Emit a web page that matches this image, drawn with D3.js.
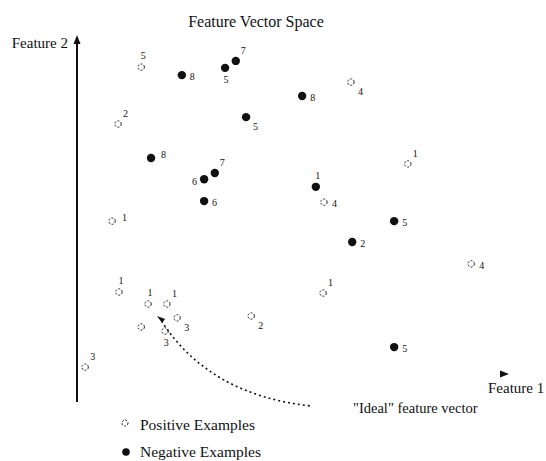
<!DOCTYPE html>
<html><head><meta charset="utf-8">
<script src="https://cdn.jsdelivr.net/npm/d3@7"></script>
<style>body{margin:0;background:#fff}svg{display:block}text{font-family:"Liberation Serif","DejaVu Serif",serif;fill:#111}</style>
</head><body>
<script>
// ---- data (feature-space coordinates) ----
const negX = [2.45, 3.46, 3.71, 5.26, 3.95, 1.73, 3.22, 2.97, 2.97, 5.58, 7.41, 6.43, 7.41];
const negY = [8.90, 9.10, 9.29, 8.33, 7.75, 6.63, 6.22, 6.05, 5.45, 5.84, 4.90, 4.33, 1.45];
const negLabels = ["8","5","7","8","5","8","7","6","6","1","5","2","5"];
const negLabelSide = ["r","b","tr","r","br","rt","tr","l","r","t","r","r","r"];

const posX = [1.50, 0.96, 6.40, 7.73, 5.77, 0.82, 0.98, 1.66, 2.10, 2.34, 1.50, 2.06, 4.07, 5.75, 9.21, 0.19];
const posY = [9.12, 7.56, 8.71, 6.47, 5.42, 4.90, 2.96, 2.63, 2.63, 2.25, 2.00, 1.89, 2.30, 2.93, 3.73, 0.90];
const posLabels = ["5","2","4","1","4","1","1","1","1","3","","3","2","1","4","3"];
const posLabelSide = ["t","tr","br","tr","r","rt","t","t","tr","br","r","b","br","tr","r","tr"];

const idealPoint = [1.87, 2.30];
const idealCurve = [[5.44, -0.16], [3.11, 0.14]]; // start, control
const texts = {
  title: "Feature Vector Space",
  xLabel: "Feature 1",
  yLabel: "Feature 2",
  ideal: "\"Ideal\" feature vector",
  pos: "Positive Examples",
  neg: "Negative Examples"
};

// ---- drawing ----
const W = 546, H = 461;
const svg = d3.select("body").append("svg").attr("width", W).attr("height", H);
const x = d3.scaleLinear().domain([0, 10]).range([77, 505]);
const y = d3.scaleLinear().domain([0, 10]).range([400, 35]);

const off = {
  r:  {dx: 8,  dy: 5,  a: "start"},
  rt: {dx: 10, dy: 0,  a: "start"},
  tr: {dx: 5,  dy: -7, a: "start"},
  br: {dx: 7,  dy: 13, a: "start"},
  b:  {dx: 1,  dy: 15, a: "middle"},
  t:  {dx: 2,  dy: -8, a: "middle"},
  l:  {dx: -7, dy: 6,  a: "end"}
};

// title
svg.append("text").attr("x", 256).attr("y", 27).attr("text-anchor", "middle")
  .attr("font-size", 16).text(texts.title);

// y axis (vertical line with arrowhead)
svg.append("line").attr("x1", x(0)).attr("x2", x(0)).attr("y1", y(10) + 4).attr("y2", 402)
  .attr("stroke", "#111").attr("stroke-width", 2);
svg.append("path").attr("d", `M${x(0)},${y(10)} l-3.5,9 l7,0 z`).attr("fill", "#111");
svg.append("text").attr("x", 68).attr("y", 48).attr("text-anchor", "end")
  .attr("font-size", 15).text(texts.yLabel);

// x axis arrowhead (line lost in the original)
svg.append("path").attr("d", `M${x(10) + 4},${y(0) - 26} l-9,-3.5 l0,7 z`).attr("fill", "#111");
svg.append("text").attr("x", 488).attr("y", 393).attr("font-size", 15).text(texts.xLabel);

// ideal vector dotted curve
const c0 = idealCurve[0], c1 = idealCurve[1];
const p = d3.path();
p.moveTo(x(c0[0]), y(c0[1]));
p.quadraticCurveTo(x(c1[0]), y(c1[1]), x(idealPoint[0]) + 5, y(idealPoint[1]) + 6);
svg.append("path").attr("d", p.toString()).attr("fill", "none").attr("stroke", "#111")
  .attr("stroke-width", 1.6).attr("stroke-dasharray", "2,3");
svg.append("path")
  .attr("d", `M${x(idealPoint[0])},${y(idealPoint[1])} l8,3 l-3,4 z`)
  .attr("fill", "#111");
svg.append("text").attr("x", 353).attr("y", 413).attr("font-size", 14.5).text(texts.ideal);

// negative examples
const neg = negX.map((v, i) => ({x: v, y: negY[i], l: negLabels[i], s: negLabelSide[i]}));
svg.append("g").selectAll("circle").data(neg).join("circle")
  .attr("cx", d => x(d.x)).attr("cy", d => y(d.y)).attr("r", 4.2).attr("fill", "#111");
svg.append("g").selectAll("text").data(neg).join("text")
  .attr("x", d => x(d.x) + off[d.s].dx).attr("y", d => y(d.y) + off[d.s].dy)
  .attr("text-anchor", d => off[d.s].a).attr("font-size", 10).text(d => d.l);

// positive examples
const pos = posX.map((v, i) => ({x: v, y: posY[i], l: posLabels[i], s: posLabelSide[i]}));
svg.append("g").selectAll("circle").data(pos).join("circle")
  .attr("cx", d => x(d.x)).attr("cy", d => y(d.y)).attr("r", 3.2)
  .attr("fill", "none").attr("stroke", "#222").attr("stroke-width", 1).attr("stroke-dasharray", "2,1.5");
svg.append("g").selectAll("text").data(pos).join("text")
  .attr("x", d => x(d.x) + off[d.s].dx).attr("y", d => y(d.y) + off[d.s].dy)
  .attr("text-anchor", d => off[d.s].a).attr("font-size", 10).text(d => d.l);

// legend
svg.append("circle").attr("cx", 125).attr("cy", 423).attr("r", 3)
  .attr("fill", "none").attr("stroke", "#222").attr("stroke-dasharray", "2,1.5");
svg.append("text").attr("x", 140).attr("y", 430).attr("font-size", 15.5).text(texts.pos);
svg.append("circle").attr("cx", 126).attr("cy", 452).attr("r", 3.8).attr("fill", "#111");
svg.append("text").attr("x", 140).attr("y", 457).attr("font-size", 15.5).text(texts.neg);
</script>
</body></html>
